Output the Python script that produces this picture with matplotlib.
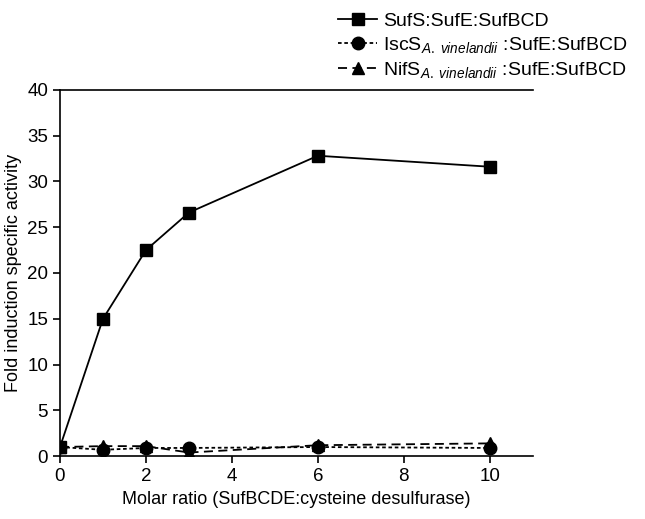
import matplotlib.pyplot as plt

plt.rcParams.update({
    "font.family": "Liberation Sans",
    "mathtext.fontset": "custom",
    "mathtext.rm": "Liberation Sans",
    "mathtext.it": "Liberation Sans:italic",
    "font.size": 13,
})

# Molar ratios and fold-induction values
ratio = [0, 1, 2, 3, 6, 10]
sufs = [1.0, 15.0, 22.5, 26.6, 32.8, 31.6]
iscs = [1.0, 0.7, 0.9, 0.9, 1.0, 0.9]
nifs = [1.0, 1.1, 1.1, 0.4, 1.2, 1.4]

labels = [
    "SufS:SufE:SufBCD",
    r"IscS$_{\mathit{A.\ vinelandii}}$ :SufE:SufBCD",
    r"NifS$_{\mathit{A.\ vinelandii}}$ :SufE:SufBCD",
]

fig = plt.figure(figsize=(6.45, 5.19), dpi=100)
ax = fig.add_axes([0.093, 0.121, 0.733, 0.706])

ax.plot(ratio, sufs, color='black', lw=1.3, marker='s', markersize=9, label=labels[0])
ax.plot(ratio, iscs, color='black', lw=1.3, ls=(0, (2, 1.5)), marker='o', markersize=9, label=labels[1])
ax.plot(ratio, nifs, color='black', lw=1.3, ls=(0, (5, 3)), marker='^', markersize=9, label=labels[2])

ax.set_xlim(0, 11)
ax.set_ylim(0, 40)
ax.set_xticks([0, 2, 4, 6, 8, 10])
ax.set_yticks(range(0, 41, 5))
ax.set_xlabel("Molar ratio (SufBCDE:cysteine desulfurase)", fontsize=13)
ax.set_ylabel("Fold induction specific activity", fontsize=13)
ax.spines['right'].set_visible(False)
ax.tick_params(direction='out', length=5, width=1.2, labelsize=13.5)
for s in ['left', 'bottom', 'top']:
    ax.spines[s].set_linewidth(1.2)

fig.legend(loc='upper right', bbox_to_anchor=(1.0, 1.01), frameon=False,
           handlelength=2.0, handletextpad=0.3, labelspacing=0.25, fontsize=14)

fig.savefig('out.png', dpi=100)
